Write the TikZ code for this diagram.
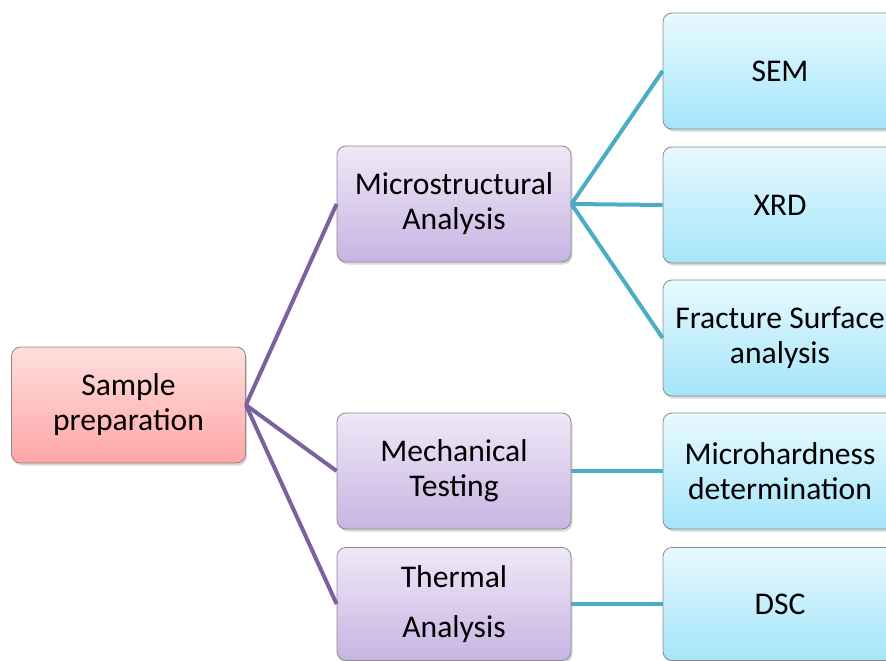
\documentclass[tikz,border=0pt]{standalone}
\usepackage{fontspec}
\setmainfont{Carlito}
\usetikzlibrary{shadows}
\definecolor{pinktop}{HTML}{FFDEDE}
\definecolor{pinkbot}{HTML}{FFA6A6}
\definecolor{lilactop}{HTML}{EFE8F7}
\definecolor{lilacbot}{HTML}{C8B4E2}
\definecolor{skytop}{HTML}{E8F9FE}
\definecolor{skybot}{HTML}{A4E5FA}
\definecolor{boxline}{HTML}{8A8A8A}
\definecolor{violetline}{HTML}{7D60A0}
\definecolor{tealline}{HTML}{4BACC6}

\begin{document}
\begin{tikzpicture}[x=1pt,y=1pt,
  box/.style={draw=boxline, line width=0.8pt, rounded corners=9pt,
    minimum width=234pt, minimum height=116pt, align=center,
    font=\fontsize{31.6}{35}\selectfont,
    drop shadow={shadow xshift=1.5pt, shadow yshift=-2.5pt, opacity=0.3}},
  prepbox/.style={box, top color=pinktop, bottom color=pinkbot},
  stagebox/.style={box, top color=lilactop, bottom color=lilacbot},
  methodbox/.style={box, top color=skytop, bottom color=skybot},
  stageline/.style={violetline, line width=4pt},
  methodline/.style={tealline, line width=4pt}]
\clip (0,0) rectangle (886,-661);
% left column
\node[prepbox] (prep) at (128.5,-405) {Sample\\preparation};
% middle column
\node[stagebox] (micro) at (454,-204) {Microstructural\\Analysis};
\node[stagebox] (mech) at (454,-471) {Mechanical\\Testing};
\node[stagebox, minimum height=113pt, font=\fontsize{31.6}{50}\selectfont] (thermal) at (454,-604) {Thermal\\Analysis};
% right column
\node[methodbox] (sem) at (780,-71) {SEM};
\node[methodbox] (xrd) at (780,-205) {XRD};
\node[methodbox] (fracture) at (780,-338) {Fracture Surface\\analysis};
\node[methodbox] (hardness) at (780,-471) {Microhardness\\determination};
\node[methodbox, minimum height=113pt] (dsc) at (780,-604) {DSC};
% connectors
\draw[stageline] (prep.east) -- (micro.west);
\draw[stageline] (prep.east) -- (mech.west);
\draw[stageline] (prep.east) -- (thermal.west);
\draw[methodline] (micro.east) -- (sem.west);
\draw[methodline] (micro.east) -- (xrd.west);
\draw[methodline] (micro.east) -- (fracture.west);
\draw[methodline] (mech.east) -- (hardness.west);
\draw[methodline] (thermal.east) -- (dsc.west);
\end{tikzpicture}
\end{document}
